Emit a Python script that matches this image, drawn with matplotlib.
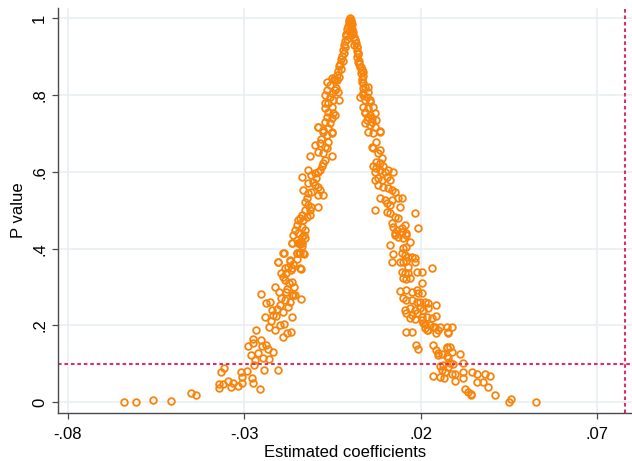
import matplotlib.pyplot as plt

# (coefficient, p value) pairs, grouped by region
peak = [(0.0000, 1.000), (-0.0002, 0.996), (0.0002, 0.996), (-0.0004, 0.990), (0.0003, 0.991),
        (-0.0001, 0.985), (0.0005, 0.984), (-0.0006, 0.980), (0.0002, 0.978), (-0.0008, 0.972),
        (0.0007, 0.972), (-0.0004, 0.966), (0.0009, 0.965), (-0.0010, 0.960), (0.0006, 0.958),
        (-0.0012, 0.953), (0.0011, 0.952), (-0.0008, 0.946), (0.0014, 0.944), (-0.0014, 0.940),
        (0.0016, 0.935), (-0.0017, 0.931), (0.0012, 0.930), (-0.0013, 0.925), (0.0019, 0.925),
        (-0.0019, 0.918), (0.0021, 0.915), (-0.0016, 0.910), (0.0023, 0.907), (-0.0022, 0.903),
        (0.0020, 0.898), (-0.0025, 0.895), (0.0025, 0.890), (-0.0019, 0.888), (-0.0028, 0.882),
        (0.0027, 0.880), (-0.0031, 0.875), (0.0030, 0.872), (-0.0026, 0.868), (0.0034, 0.866),
        (-0.0034, 0.862), (0.0031, 0.858), (-0.0038, 0.852), (0.0036, 0.850), (-0.0030, 0.848),
        (-0.0044, 0.842), (0.0034, 0.842), (-0.0036, 0.838), (0.0038, 0.832)]

left_upper = [(-0.0066, 0.835), (-0.0052, 0.844), (-0.0042, 0.839), (-0.0057, 0.826), (-0.0042, 0.813),
              (-0.0033, 0.809), (-0.0066, 0.813), (-0.0071, 0.800), (-0.0057, 0.796), (-0.0047, 0.787),
              (-0.0061, 0.779), (-0.0052, 0.770), (-0.0071, 0.766), (-0.0061, 0.757), (-0.0047, 0.753),
              (-0.0066, 0.744), (-0.0052, 0.740), (-0.0042, 0.748), (-0.0071, 0.731), (-0.0057, 0.727),
              (-0.0040, 0.818), (-0.0052, 0.805), (-0.0030, 0.787), (-0.0071, 0.779), (-0.0090, 0.716),
              (-0.0076, 0.705), (-0.0052, 0.705), (-0.0066, 0.696), (-0.0090, 0.718), (-0.0076, 0.709),
              (-0.0061, 0.714), (-0.0052, 0.700)]

left_mid = [(-0.0099, 0.670), (-0.0085, 0.674), (-0.0071, 0.666), (-0.0061, 0.679), (-0.0090, 0.653),
            (-0.0076, 0.648), (-0.0113, 0.641), (-0.0052, 0.641), (-0.0071, 0.631), (-0.0076, 0.622),
            (-0.0080, 0.614), (-0.0085, 0.605), (-0.0090, 0.600), (-0.0099, 0.596), (-0.0118, 0.605),
            (-0.0109, 0.592), (-0.0095, 0.583), (-0.0104, 0.574), (-0.0118, 0.570), (-0.0137, 0.586),
            (-0.0099, 0.566), (-0.0090, 0.561), (-0.0085, 0.553), (-0.0076, 0.540), (-0.0090, 0.540),
            (-0.0109, 0.548), (-0.0118, 0.544), (-0.0132, 0.553), (-0.0123, 0.531), (-0.0128, 0.522),
            (-0.0118, 0.514), (-0.0109, 0.508), (-0.0090, 0.508), (-0.0113, 0.501), (-0.0128, 0.501),
            (-0.0137, 0.488), (-0.0142, 0.479), (-0.0147, 0.475), (-0.0132, 0.475), (-0.0123, 0.483),
            (-0.0113, 0.488), (-0.0151, 0.462), (-0.0137, 0.457), (-0.0128, 0.449), (-0.0156, 0.449),
            (-0.0147, 0.440), (-0.0161, 0.436), (-0.0137, 0.431), (-0.0128, 0.427), (-0.0151, 0.423),
            (-0.0165, 0.416), (-0.0142, 0.412), (-0.0137, 0.407), (-0.0189, 0.388), (-0.0151, 0.390),
            (-0.0142, 0.388), (-0.0130, 0.386), (-0.0203, 0.364), (-0.0170, 0.369), (-0.0165, 0.349),
            (-0.0142, 0.349), (-0.0184, 0.349), (-0.0066, 0.661), (-0.0082, 0.685)]

left_low = [(-0.0640, 0.000), (-0.0605, 0.000), (-0.0558, 0.006), (-0.0507, 0.004), (-0.0451, 0.023),
            (-0.0437, 0.018), (-0.0371, 0.038), (-0.0371, 0.048), (-0.0361, 0.048), (-0.0366, 0.079),
            (-0.0357, 0.089), (-0.0345, 0.056), (-0.0337, 0.041), (-0.0331, 0.049), (-0.0318, 0.042),
            (-0.0310, 0.078), (-0.0307, 0.051), (-0.0307, 0.067), (-0.0293, 0.081), (-0.0288, 0.147),
            (-0.0279, 0.123), (-0.0276, 0.164), (-0.0274, 0.154), (-0.0277, 0.064), (-0.0274, 0.049),
            (-0.0271, 0.097), (-0.0269, 0.110), (-0.0265, 0.188), (-0.0260, 0.128), (-0.0254, 0.034),
            (-0.0252, 0.282), (-0.0252, 0.162), (-0.0250, 0.147), (-0.0246, 0.115), (-0.0243, 0.084),
            (-0.0241, 0.223), (-0.0239, 0.258), (-0.0238, 0.149), (-0.0233, 0.139), (-0.0229, 0.112),
            (-0.0227, 0.262), (-0.0225, 0.212), (-0.0222, 0.240), (-0.0219, 0.132), (-0.0218, 0.227),
            (-0.0213, 0.188), (-0.0213, 0.301), (-0.0208, 0.242), (-0.0205, 0.364), (-0.0203, 0.084),
            (-0.0201, 0.288), (-0.0199, 0.201), (-0.0199, 0.253), (-0.0194, 0.337), (-0.0191, 0.325),
            (-0.0189, 0.169), (-0.0189, 0.236), (-0.0187, 0.388), (-0.0187, 0.203), (-0.0184, 0.266),
            (-0.0182, 0.288), (-0.0180, 0.336), (-0.0178, 0.181), (-0.0175, 0.247), (-0.0172, 0.310),
            (-0.0170, 0.370), (-0.0167, 0.184), (-0.0167, 0.344), (-0.0165, 0.279), (-0.0165, 0.223),
            (-0.0163, 0.314), (-0.0163, 0.416), (-0.0161, 0.279), (-0.0156, 0.279), (-0.0151, 0.390),
            (-0.0148, 0.414), (-0.0144, 0.390), (-0.0142, 0.418), (-0.0139, 0.268), (-0.0139, 0.346),
            (-0.0137, 0.414), (-0.0133, 0.388), (-0.0131, 0.436), (-0.0178, 0.296), (-0.0170, 0.262),
            (-0.0158, 0.300), (-0.0185, 0.318), (-0.0175, 0.352), (-0.0160, 0.360), (-0.0150, 0.372),
            (-0.0196, 0.272), (-0.0210, 0.225), (-0.0230, 0.195)]

right_upper = [(0.0005, 0.961), (0.0014, 0.943), (0.0019, 0.926), (0.0023, 0.909), (0.0023, 0.887),
               (0.0028, 0.874), (0.0033, 0.865), (0.0038, 0.861), (0.0033, 0.835), (0.0042, 0.822),
               (0.0038, 0.805), (0.0052, 0.809), (0.0028, 0.796), (0.0042, 0.787), (0.0057, 0.787),
               (0.0038, 0.770), (0.0052, 0.766), (0.0066, 0.770), (0.0042, 0.753), (0.0057, 0.748),
               (0.0071, 0.753), (0.0047, 0.735), (0.0061, 0.731), (0.0075, 0.735), (0.0038, 0.818),
               (0.0052, 0.820), (0.0036, 0.800), (0.0047, 0.796), (0.0056, 0.783), (0.0042, 0.757),
               (0.0052, 0.744), (0.0061, 0.740), (0.0042, 0.727), (0.0071, 0.718), (0.0085, 0.707),
               (0.0052, 0.705), (0.0066, 0.700), (0.0057, 0.722), (0.0085, 0.705)]

right_mid = [(0.0075, 0.679), (0.0061, 0.666), (0.0066, 0.661), (0.0085, 0.657), (0.0080, 0.648),
             (0.0090, 0.635), (0.0075, 0.627), (0.0085, 0.622), (0.0066, 0.614), (0.0075, 0.609),
             (0.0094, 0.614), (0.0071, 0.600), (0.0085, 0.605), (0.0099, 0.600), (0.0108, 0.605),
             (0.0123, 0.600), (0.0071, 0.579), (0.0080, 0.583), (0.0090, 0.579), (0.0104, 0.587),
             (0.0113, 0.579), (0.0080, 0.566), (0.0094, 0.561), (0.0108, 0.557), (0.0118, 0.553),
             (0.0127, 0.548), (0.0085, 0.531), (0.0099, 0.527), (0.0118, 0.527), (0.0137, 0.531),
             (0.0146, 0.531), (0.0104, 0.518), (0.0113, 0.514), (0.0141, 0.509), (0.0071, 0.501),
             (0.0104, 0.496), (0.0113, 0.492), (0.0127, 0.483), (0.0137, 0.479), (0.0184, 0.492),
             (0.0118, 0.466), (0.0123, 0.457), (0.0132, 0.449), (0.0146, 0.453), (0.0155, 0.462),
             (0.0193, 0.453), (0.0127, 0.436), (0.0137, 0.431), (0.0151, 0.427), (0.0160, 0.436),
             (0.0127, 0.441), (0.0146, 0.444), (0.0158, 0.442), (0.0170, 0.418), (0.0113, 0.410),
             (0.0151, 0.401), (0.0160, 0.405)]

right_low = [(0.0123, 0.386), (0.0146, 0.388), (0.0156, 0.384), (0.0165, 0.379), (0.0175, 0.378),
             (0.0184, 0.375), (0.0118, 0.364), (0.0141, 0.366), (0.0151, 0.364), (0.0160, 0.368),
             (0.0184, 0.366), (0.0165, 0.353), (0.0231, 0.349), (0.0146, 0.340), (0.0156, 0.336),
             (0.0165, 0.336), (0.0189, 0.338), (0.0203, 0.340), (0.0151, 0.323), (0.0160, 0.320),
             (0.0170, 0.323), (0.0203, 0.311), (0.0141, 0.291), (0.0160, 0.292), (0.0175, 0.288),
             (0.0189, 0.292), (0.0193, 0.284), (0.0203, 0.285), (0.0151, 0.271), (0.0160, 0.266),
             (0.0175, 0.266), (0.0189, 0.262), (0.0198, 0.262), (0.0212, 0.262), (0.0222, 0.259),
             (0.0156, 0.240), (0.0170, 0.245), (0.0184, 0.240), (0.0198, 0.245), (0.0207, 0.240),
             (0.0222, 0.245), (0.0245, 0.253), (0.0160, 0.232), (0.0175, 0.227), (0.0189, 0.232),
             (0.0203, 0.223), (0.0217, 0.221), (0.0231, 0.219), (0.0245, 0.225), (0.0170, 0.219),
             (0.0184, 0.216), (0.0203, 0.214), (0.0212, 0.204), (0.0226, 0.201), (0.0241, 0.197),
             (0.0255, 0.197), (0.0274, 0.197), (0.0160, 0.184), (0.0175, 0.184), (0.0212, 0.193),
             (0.0222, 0.188), (0.0250, 0.188), (0.0278, 0.184), (0.0207, 0.206), (0.0236, 0.197),
             (0.0288, 0.197), (0.0217, 0.188), (0.0245, 0.180), (0.0278, 0.180)]

right_tail = [(0.0187, 0.149), (0.0192, 0.138), (0.0236, 0.149), (0.0245, 0.136), (0.0250, 0.123),
              (0.0274, 0.141), (0.0283, 0.143), (0.0288, 0.132), (0.0274, 0.121), (0.0278, 0.116),
              (0.0311, 0.125), (0.0260, 0.126), (0.0255, 0.095), (0.0264, 0.097), (0.0278, 0.091),
              (0.0292, 0.099), (0.0321, 0.103), (0.0260, 0.084), (0.0269, 0.080), (0.0288, 0.074),
              (0.0297, 0.074), (0.0321, 0.080), (0.0347, 0.080), (0.0359, 0.073), (0.0382, 0.074),
              (0.0396, 0.068), (0.0236, 0.068), (0.0255, 0.067), (0.0266, 0.062), (0.0297, 0.056),
              (0.0321, 0.062), (0.0359, 0.054), (0.0377, 0.054), (0.0391, 0.039), (0.0325, 0.034),
              (0.0335, 0.028), (0.0342, 0.021), (0.0344, 0.019), (0.0410, 0.019), (0.0450, 0.002),
              (0.0456, 0.009), (0.0528, 0.001), (0.0250, 0.128), (0.0283, 0.102), (0.0274, 0.145)]

x_ticks = [-0.08, -0.03, 0.02, 0.07]
x_labels = ['-.08', '-.03', '.02', '.07']
y_ticks = [0, 0.2, 0.4, 0.6, 0.8, 1]
y_labels = ['0', '.2', '.4', '.6', '.8', '1']
p_cut = 0.1
coef_ref = 0.078

points = peak + left_upper + left_mid + left_low + right_upper + right_mid + right_low + right_tail
coef = [c for c, p in points]
pval = [p for c, p in points]

plt.rcParams['font.family'] = ['Liberation Sans', 'DejaVu Sans']

fig = plt.figure(figsize=(6.32, 4.61), dpi=100)
ax = fig.add_axes([0.0913, 0.1048, 0.9087, 0.8779])

ax.grid(True, color='#E7EFF1', lw=1.1)
ax.set_axisbelow(True)

ax.plot(coef, pval, linestyle='none', marker='o', mfc='none', mec='#F7840C', ms=4.8, mew=1.3)

# reference lines
dash = (0, (1.7, 1.4))
ax.axhline(p_cut, color='#DC2F63', lw=1.5, ls=dash)
ax.axvline(coef_ref, color='#DC2F63', lw=1.5, ls=dash)

ax.set_xlim(-0.0828, 0.0799)
ax.set_ylim(-0.0271, 1.0268)
ax.set_xticks(x_ticks)
ax.set_xticklabels(x_labels)
ax.set_yticks(y_ticks)
ax.set_yticklabels(y_labels, rotation=90, va='center')

for side in ['top', 'right']:
    ax.spines[side].set_visible(False)
for side in ['left', 'bottom']:
    ax.spines[side].set_color('#4a4a4a')
    ax.spines[side].set_linewidth(1.0)

ax.tick_params(axis='both', direction='out', length=4.2, width=0.9, color='#4a4a4a', labelsize=12)
ax.tick_params(axis='x', pad=6)
ax.tick_params(axis='y', pad=3.5)

ax.set_xlabel('Estimated coefficients', fontsize=12, labelpad=2)
ax.set_ylabel('P value', fontsize=12, labelpad=4)

fig.savefig('out.png', dpi=100)
